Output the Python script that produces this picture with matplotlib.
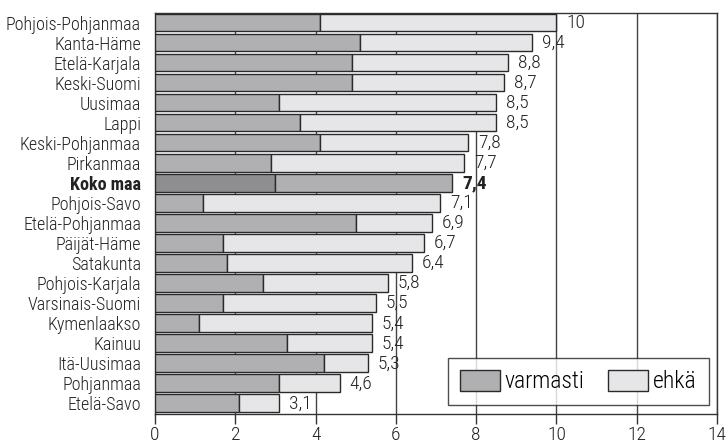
import matplotlib
matplotlib.use("Agg")
import matplotlib.pyplot as plt
from matplotlib import font_manager as fm
from matplotlib.patches import Patch

entries = fm.fontManager.ttflist
names = {f.name for f in entries}
stretch_mode = "normal"
family = None
for cand in ["Liberation Sans Narrow", "Roboto Condensed", "Open Sans Condensed", "Noto Sans Condensed"]:
    if cand in names:
        family = cand
        break
if family is None:
    cond = [f for f in entries if f.stretch in ("condensed", "semi-condensed", "extra-condensed", 300, 400)
            or "Condensed" in f.fname or "Narrow" in f.fname]
    if cond:
        family = cond[0].name
        stretch_mode = cond[0].stretch
    else:
        family = "DejaVu Sans"
plt.rcParams['font.family'] = [family, 'DejaVu Sans']
plt.rcParams['font.stretch'] = stretch_mode
narrow = family != "DejaVu Sans" or stretch_mode != "normal"
NAME_FS = 13 if narrow else 10.5
NUM_FS = 14 if narrow else 11.5
LEG_FS = 17 if narrow else 13
LIGHT = "light"

regions = ["Pohjois-Pohjanmaa", "Kanta-Häme", "Etelä-Karjala", "Keski-Suomi", "Uusimaa",
           "Lappi", "Keski-Pohjanmaa", "Pirkanmaa", "Koko maa", "Pohjois-Savo",
           "Etelä-Pohjanmaa", "Päijät-Häme", "Satakunta", "Pohjois-Karjala",
           "Varsinais-Suomi", "Kymenlaakso", "Kainuu", "Itä-Uusimaa", "Pohjanmaa", "Etelä-Savo"]
varmasti = [4.1, 5.1, 4.9, 4.9, 3.1, 3.6, 4.1, 2.9, 3.0, 1.2,
            5.0, 1.7, 1.8, 2.7, 1.7, 1.1, 3.3, 4.2, 3.1, 2.1]
totals = [10, 9.4, 8.8, 8.7, 8.5, 8.5, 7.8, 7.7, 7.4, 7.1,
          6.9, 6.7, 6.4, 5.8, 5.5, 5.4, 5.4, 5.3, 4.6, 3.1]
total_labels = ["10", "9,4", "8,8", "8,7", "8,5", "8,5", "7,8", "7,7", "7,4", "7,1",
                "6,9", "6,7", "6,4", "5,8", "5,5", "5,4", "5,4", "5,3", "4,6", "3,1"]
ehka = [round(t - v, 2) for t, v in zip(totals, varmasti)]
highlight = "Koko maa"
xticks = [0, 2, 4, 6, 8, 10, 12, 14]

c_var = "#b0b0b2"
c_ehka = "#e6e6e8"
c_var_hl = "#8e8e90"
edge = "#2a2a2a"

fig = plt.figure(figsize=(7.26, 4.47), dpi=100)
ax = fig.add_axes([155/726, 33/447, (717-155)/726, (414-13)/447])

y = list(range(len(regions)))
for i, r in enumerate(regions):
    hl = r == highlight
    ax.barh(i, varmasti[i], height=0.875, color=c_var_hl if hl else c_var,
            edgecolor=edge, linewidth=1.0, zorder=3)
    ax.barh(i, ehka[i], left=varmasti[i], height=0.875, color=c_var if hl else c_ehka,
            edgecolor=edge, linewidth=1.0, zorder=3)
    ax.text(totals[i] + 0.25, i + 0.02, total_labels[i], va="center", ha="left",
            fontsize=NUM_FS, fontweight="bold" if hl else LIGHT, color="#222222", zorder=4)

ax.set_xlim(0, 14)
ax.set_ylim(19.55, -0.48)
ax.set_yticks(y)
ax.set_yticklabels(regions, fontsize=NAME_FS, color="#222222", fontweight=LIGHT)
for lbl in ax.get_yticklabels():
    if lbl.get_text() == highlight:
        lbl.set_fontweight("bold")
ax.tick_params(axis="y", length=0, pad=10)
ax.set_xticks(xticks)
ax.set_xticklabels([str(t) for t in xticks], fontsize=NUM_FS, color="#222222", fontweight=LIGHT)
ax.tick_params(axis="x", length=7, width=1, color="#333333", pad=2)

ax.grid(axis="x", color="#444444", linewidth=1.0, zorder=0)
ax.set_axisbelow(True)
for s in ax.spines.values():
    s.set_color("#333333")
    s.set_linewidth(1.0)

handles = [Patch(facecolor=c_var, edgecolor=edge, label="varmasti"),
           Patch(facecolor=c_ehka, edgecolor=edge, label="ehkä")]
leg = ax.legend(handles=handles, ncol=2, loc="lower right", bbox_to_anchor=(0.985, 0.022),
                prop={"size": LEG_FS, "weight": LIGHT}, frameon=True, fancybox=False,
                edgecolor="#222222", handlelength=1.7, handleheight=1.0, handletextpad=0.2,
                columnspacing=1.0, borderpad=0.5, borderaxespad=0.0)
leg.get_frame().set_linewidth(1.0)
leg.set_zorder(5)

fig.savefig("out.png", dpi=100)
